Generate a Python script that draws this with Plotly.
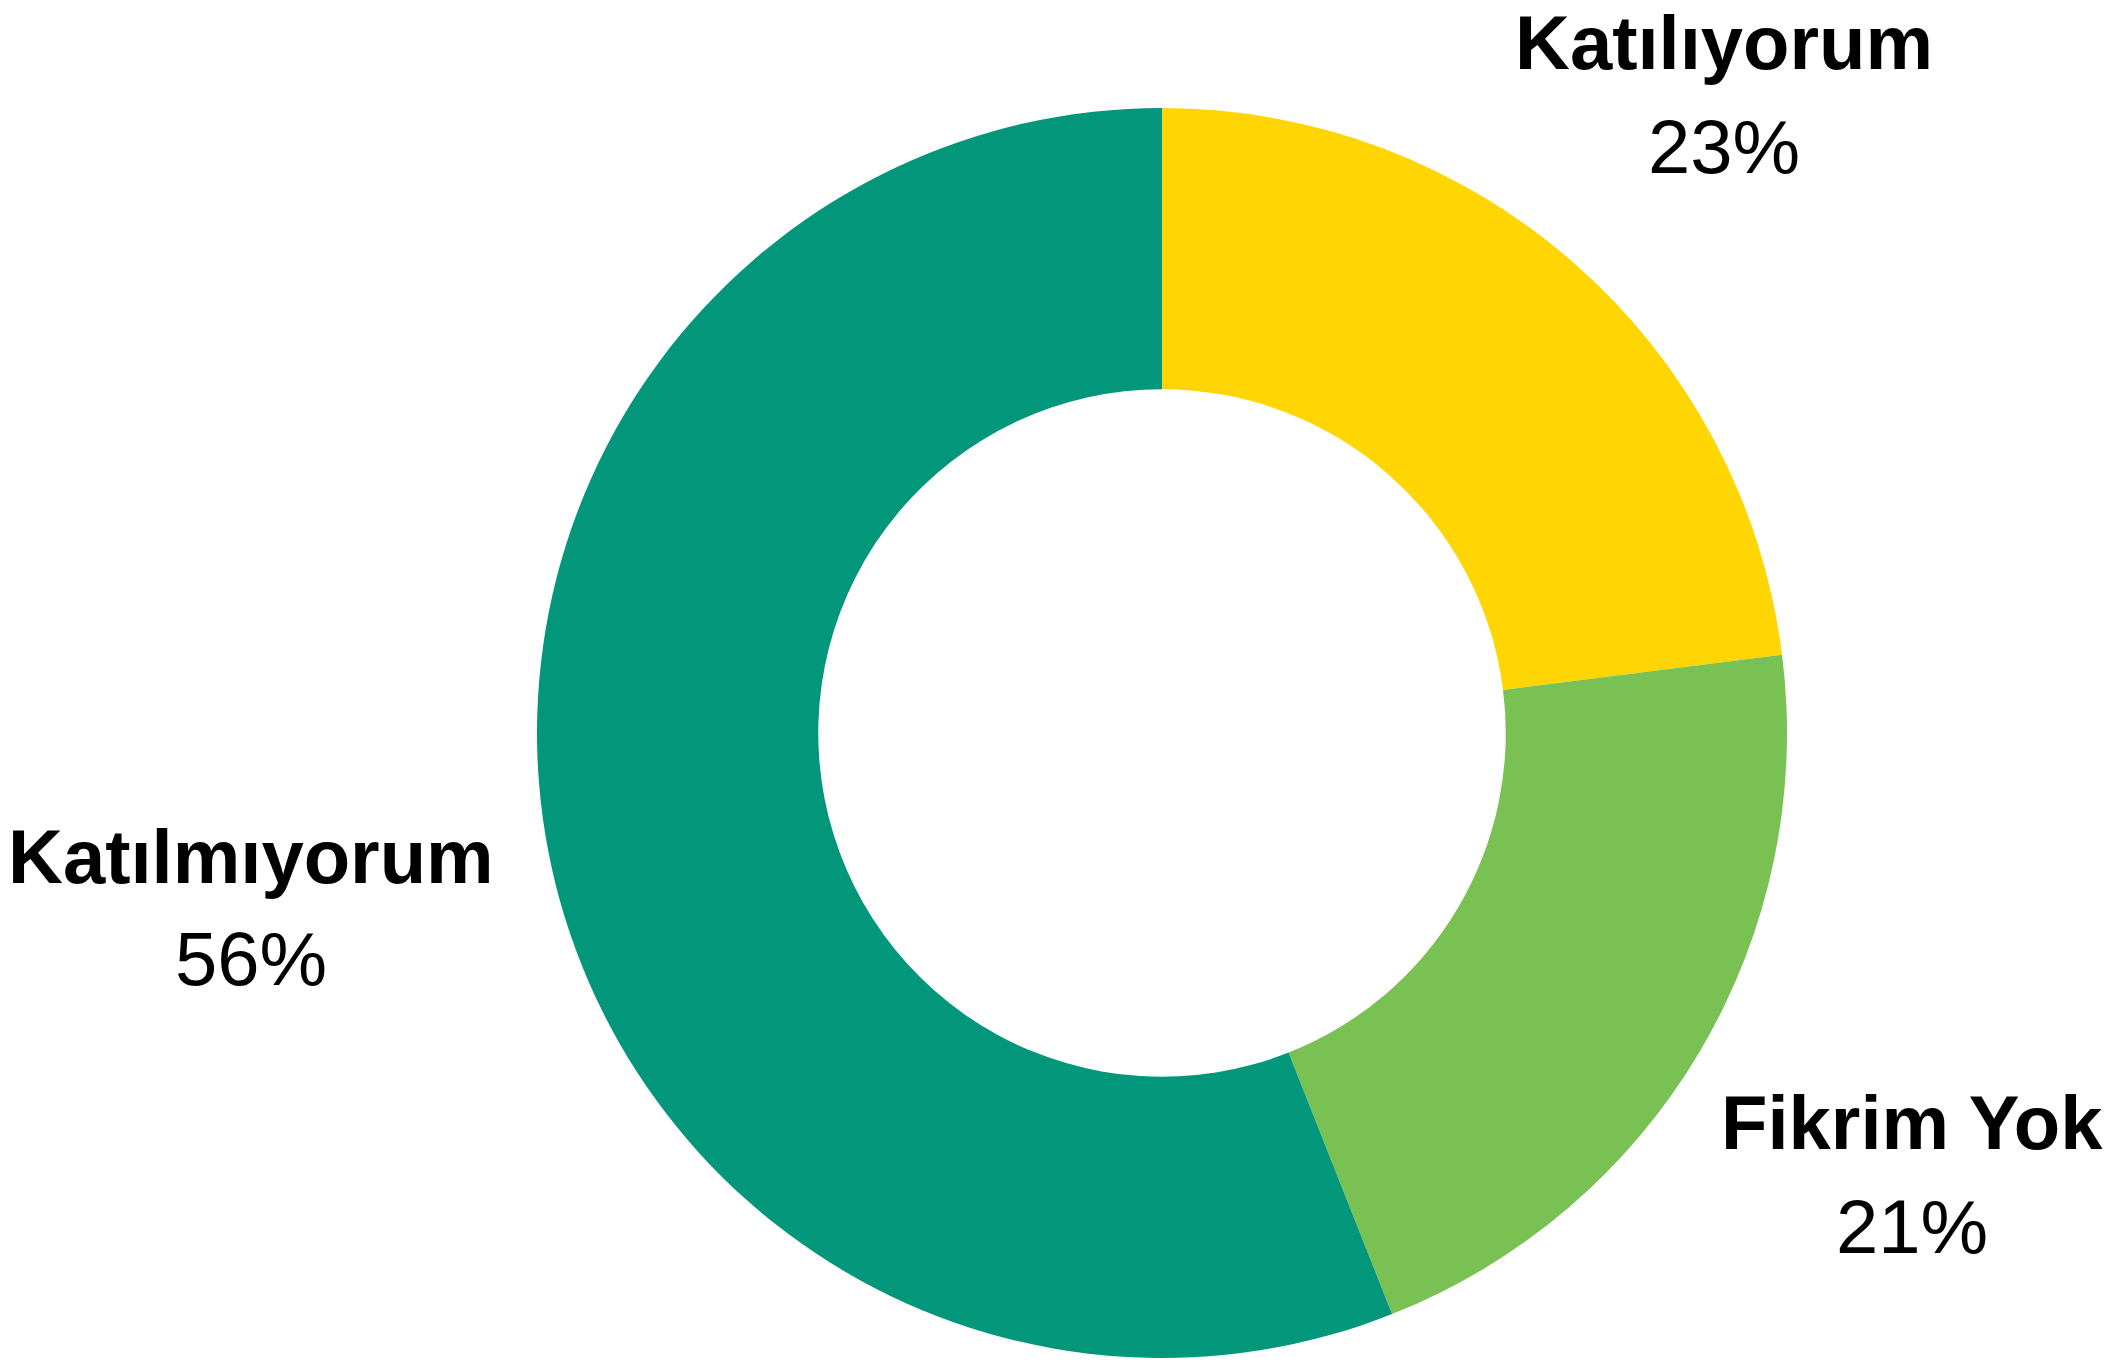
import plotly.graph_objects as go

categories = ["Katılıyorum", "Fikrim Yok", "Katılmıyorum"]
values = [23, 21, 56]
colors = ["#FFD603", "#7AC153", "#02967A"]

# label placement (paper coords) for each category: name line, percent line
label_x = [0.8102, 0.8991, 0.1148]
name_y = [0.9747, 0.1835, 0.3784]
pct_y = [0.8983, 0.1071, 0.3034]

W, H = 2118, 1365
fig = go.Figure(go.Pie(
    labels=categories,
    values=values,
    hole=0.55,
    sort=False,
    direction="clockwise",
    rotation=0,
    marker=dict(colors=colors, line=dict(width=0)),
    textinfo="none",
    hoverinfo="label+percent",
    domain=dict(x=[529 / W, 1779 / W], y=[15 / H, 1265 / H]),
    showlegend=False,
))

annotations = []
total = sum(values)
for cat, v, x, ny, py in zip(categories, values, label_x, name_y, pct_y):
    annotations.append(dict(
        text=f"<b>{cat}</b>", x=x, y=ny, xref="paper", yref="paper",
        xanchor="center", yanchor="middle", showarrow=False,
        font=dict(family="Liberation Sans", size=76, color="#000000"),
    ))
    annotations.append(dict(
        text=f"{round(v / total * 100)}%", x=x, y=py, xref="paper", yref="paper",
        xanchor="center", yanchor="middle", showarrow=False,
        font=dict(family="Liberation Sans", size=76, color="#000000"),
    ))

fig.update_layout(
    width=W, height=H,
    margin=dict(l=0, r=0, t=0, b=0),
    paper_bgcolor="white", plot_bgcolor="white",
    annotations=annotations,
)

fig.write_html("out.html")
